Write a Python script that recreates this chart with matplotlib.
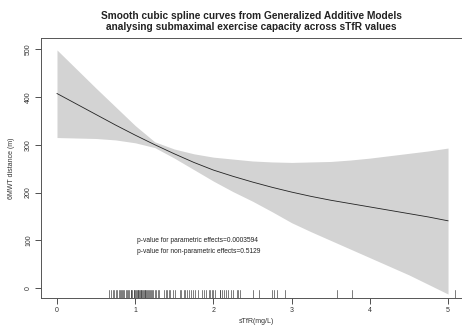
import numpy as np
import matplotlib
matplotlib.use("Agg")
from matplotlib import pyplot as plt

plt.rcParams['font.family'] = ['Liberation Sans', 'DejaVu Sans']

# GAM fit, sTfR step 0.25
stfr = [0, 0.25, 0.5, 0.75, 1, 1.25, 1.5, 1.75, 2, 2.25, 2.5,
        2.75, 3, 3.25, 3.5, 3.75, 4, 4.25, 4.5, 4.75, 5]
fit = [407, 385, 363, 341, 320, 300, 281, 263, 247, 234, 222,
       211, 201, 192, 184, 177, 170, 163, 156, 149, 141]
upper = [498, 458, 418, 379, 340, 306, 291, 281, 274, 270, 266,
         264, 263, 264, 265, 268, 272, 277, 282, 287, 293]
lower = [315, 314, 313, 310, 304, 294, 272, 248, 224, 202, 182,
         160, 137, 118, 100, 82, 64, 46, 28, 8, -12]

# observed sTfR values (rug)
rug_x = [0.67, 0.69, 0.71, 0.73, 0.75, 0.77, 0.79, 0.80, 0.82, 0.83, 0.85,
         0.86, 0.88, 0.89, 0.91, 0.92, 0.94, 0.95, 0.96, 0.98, 0.99, 1.00,
         1.01, 1.02, 1.03, 1.04, 1.05, 1.06, 1.07, 1.08, 1.09, 1.10, 1.11,
         1.12, 1.13, 1.14, 1.15, 1.16, 1.18, 1.19, 1.20, 1.22, 1.23, 1.25,
         1.27, 1.29, 1.31, 1.37, 1.39, 1.41, 1.43, 1.45, 1.48, 1.51,
         1.57, 1.59, 1.62, 1.64, 1.66, 1.69, 1.71, 1.74, 1.77, 1.80,
         1.85, 1.88, 1.91, 1.94, 1.96, 1.98, 2.00, 2.02, 2.08, 2.09, 2.11,
         2.14, 2.16, 2.19, 2.23, 2.25, 2.30, 2.32, 2.34,
         2.50, 2.58, 2.745, 2.775, 2.81, 2.92, 3.576, 3.772, 5.09]

xticks = [0, 1, 2, 3, 4, 5]
yticks = [0, 100, 200, 300, 400, 500]

fig = plt.figure(figsize=(4.62, 3.26), dpi=100)
# plot box runs past the right edge, as in the cropped original
ax = fig.add_axes([41 / 462, 28 / 326, 430.8 / 462, 260 / 326])

ax.fill_between(stfr, lower, upper, color='#d3d3d3', lw=0)
ax.plot(stfr, fit, color='#222222', lw=0.6)
for r in rug_x:
    ax.axvline(r, ymin=0, ymax=0.03, color='#333333', lw=0.45)

ax.text(1.02, 100, 'p-value for parametric effects=0.0003594',
        fontsize=4.8, ha='left', va='center', color='#222222')
ax.text(1.02, 77, 'p-value for non-parametric effects=0.5129',
        fontsize=4.8, ha='left', va='center', color='#222222')

ax.set_xlim(-0.2046, 5.304)
ax.set_ylim(-20.3, 523)
ax.set_xticks(xticks)
ax.set_yticks(yticks)
ax.set_yticklabels([str(v) for v in yticks], rotation=90, va='center')
ax.tick_params(direction='out', length=4, width=0.6, labelsize=5,
               colors='#333333', pad=2.5)
for s in ax.spines.values():
    s.set_linewidth(0.7)
    s.set_color('#555555')

ax.set_xlabel('sTfR(mg/L)', fontsize=5, labelpad=3, color='#333333')
ax.set_ylabel('6MWT distance (m)', fontsize=5, labelpad=7, color='#333333')

fig.text(251.5 / 462, 1 - 21.5 / 326,
         'Smooth cubic spline curves from Generalized Additive Models\n'
         'analysing submaximal exercise capacity across sTfR values',
         ha='center', va='center', fontsize=7.3, fontweight='bold',
         linespacing=1.15, color='#222222')

fig.savefig('out.png', dpi=100)
